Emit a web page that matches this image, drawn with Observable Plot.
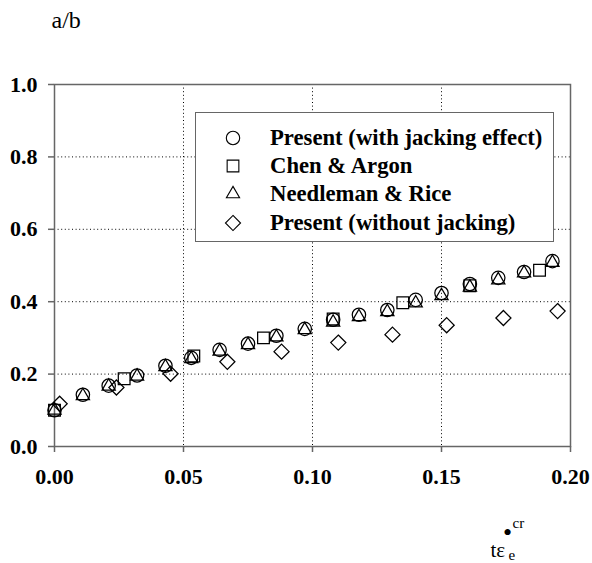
<!DOCTYPE html>
<html>
<head>
<meta charset="utf-8">
<script src="https://cdn.jsdelivr.net/npm/d3@7"></script>
<script src="https://cdn.jsdelivr.net/npm/@observablehq/plot@0.6"></script>
<style>
  body { margin: 0; background: #fff; }
  #wrap { position: relative; width: 592px; height: 563px; background: #fff; }
  #legend { position: absolute; left: 195px; top: 112px; width: 357px; height: 128px;
            border: 1.5px solid #666; background: #fff; }
  .lrow { position: absolute; left: 0; height: 28px; width: 100%;
          font-family: "Liberation Serif", "Times New Roman", serif; font-weight: bold; font-size: 22.7px; color: #000; }
  .lrow svg { position: absolute; left: 26px; top: 3px; }
  .lrow span { position: absolute; left: 74px; top: 0px; line-height: 28px; white-space: nowrap; }
</style>
</head>
<body>
<div id="wrap"></div>
<script>
// ---- data ----
const seriesNames = ["Present (with jacking effect)", "Chen & Argon", "Needleman & Rice", "Present (without jacking)"];

const xJacking = [0, 0.011, 0.021, 0.032, 0.043, 0.053, 0.064, 0.075, 0.086, 0.097, 0.108, 0.118, 0.129, 0.140, 0.150, 0.161, 0.172, 0.182, 0.193];
const yJacking = [0.10, 0.143, 0.168, 0.196, 0.223, 0.245, 0.267, 0.284, 0.306, 0.325, 0.350, 0.364, 0.377, 0.405, 0.424, 0.449, 0.466, 0.482, 0.512];

const xChen = [0, 0.027, 0.054, 0.081, 0.108, 0.135, 0.161, 0.188];
const yChen = [0.10, 0.187, 0.250, 0.300, 0.352, 0.397, 0.444, 0.487];

const xNeedleman = [0, 0.011, 0.021, 0.032, 0.043, 0.053, 0.064, 0.075, 0.086, 0.097, 0.108, 0.118, 0.129, 0.140, 0.150, 0.161, 0.172, 0.182, 0.193];
const yNeedleman = [0.10, 0.140, 0.166, 0.194, 0.220, 0.242, 0.263, 0.281, 0.302, 0.322, 0.343, 0.358, 0.372, 0.396, 0.416, 0.440, 0.460, 0.479, 0.508];

const xNoJacking = [0.002, 0.024, 0.045, 0.067, 0.088, 0.110, 0.131, 0.152, 0.174, 0.195];
const yNoJacking = [0.118, 0.163, 0.201, 0.234, 0.262, 0.287, 0.309, 0.335, 0.355, 0.374];

const xTicks = [0, 0.05, 0.10, 0.15, 0.20];
const yTicks = [0, 0.2, 0.4, 0.6, 0.8, 1.0];
const xGrid = [0.05, 0.10, 0.15];
const yGrid = [0.2, 0.4, 0.6, 0.8];

// ---- tables ----
const toRows = (xs, ys) => xs.map((x, i) => ({x, y: ys[i]}));
const jacking = toRows(xJacking, yJacking);
const chen = toRows(xChen, yChen);
const needleman = toRows(xNeedleman, yNeedleman);
const noJacking = toRows(xNoJacking, yNoJacking);

const symbolSpec = [
  {sym: "circle", d3sym: d3.symbolCircle, r: 6.7},
  {sym: "square", d3sym: d3.symbolSquare, r: 6.6},
  {sym: "triangle", d3sym: d3.symbolTriangle, r: 4.9},
  {sym: "diamond2", d3sym: d3.symbolDiamond2, r: 6.8}
];

const serif = "'Liberation Serif', 'Times New Roman', serif";
const dotOpts = (k) => ({x: "x", y: "y", symbol: () => symbolSpec[k].sym, r: symbolSpec[k].r,
  stroke: "black", fill: "none", strokeWidth: 1.25});

const chart = Plot.plot({
  width: 592, height: 563,
  marginLeft: 54, marginRight: 22, marginTop: 84, marginBottom: 117,
  x: {domain: [0, 0.2]},
  y: {domain: [0, 1]},
  symbol: {type: "identity"},
  style: {fontFamily: serif, background: "white", color: "black", overflow: "visible"},
  marks: [
    Plot.ruleX(xGrid, {stroke: "black", strokeWidth: 1, strokeDasharray: "1,2.6"}),
    Plot.ruleY(yGrid, {stroke: "black", strokeWidth: 1, strokeDasharray: "1,2.6"}),
    Plot.frame({stroke: "#666", strokeWidth: 1.5}),
    Plot.axisY(yTicks, {tickSize: 6, tickPadding: 11, tickFormat: d3.format(".1f"), label: null,
      stroke: "#666", strokeWidth: 1.5, fontSize: 22, fontWeight: "bold", fill: "black"}),
    Plot.axisX(xTicks, {tickSize: 6, tickPadding: 16, tickFormat: d3.format(".2f"), label: null,
      stroke: "#666", strokeWidth: 1.5, fontSize: 22, fontWeight: "bold", fill: "black"}),
    Plot.dot(needleman, dotOpts(2)),
    Plot.dot(chen, dotOpts(1)),
    Plot.dot(noJacking, dotOpts(3)),
    Plot.dot(jacking, dotOpts(0)),
    // y label
    Plot.text(["a/b"], {frameAnchor: "top-left", textAnchor: "start", lineAnchor: "bottom",
      dx: -3, dy: -57, fontSize: 24, fill: "black"}),
    // x label pieces
    Plot.text(["tε"], {frameAnchor: "bottom-right", textAnchor: "start", lineAnchor: "bottom",
      dx: -80, dy: 110, fontSize: 21, fill: "black"}),
    Plot.text(["e"], {frameAnchor: "bottom-right", textAnchor: "start", lineAnchor: "bottom",
      dx: -62, dy: 113, fontSize: 15, fill: "black"}),
    Plot.text(["•"], {frameAnchor: "bottom-right", textAnchor: "middle", lineAnchor: "bottom",
      dx: -63, dy: 94, fontSize: 26, fill: "black"}),
    Plot.text(["cr"], {frameAnchor: "bottom-right", textAnchor: "start", lineAnchor: "bottom",
      dx: -58, dy: 81, fontSize: 15, fill: "black"})
  ]
});

const wrap = document.getElementById("wrap");
wrap.appendChild(chart);

// ---- legend (HTML overlay) ----
const legend = document.createElement("div");
legend.id = "legend";
const rowTops = [11, 39, 67, 96];
seriesNames.forEach((name, k) => {
  const row = document.createElement("div");
  row.className = "lrow";
  row.style.top = rowTops[k] + "px";
  const spec = symbolSpec[k];
  const size = Math.PI * spec.r * spec.r;
  const path = d3.symbol(spec.d3sym, size)();
  const svg = d3.create("svg").attr("width", 22).attr("height", 22).attr("viewBox", "-11 -11 22 22");
  svg.append("path").attr("d", path).attr("fill", "none").attr("stroke", "black").attr("stroke-width", 1.1);
  row.appendChild(svg.node());
  const span = document.createElement("span");
  span.textContent = name;
  row.appendChild(span);
  legend.appendChild(row);
});
wrap.appendChild(legend);
</script>
</body>
</html>
